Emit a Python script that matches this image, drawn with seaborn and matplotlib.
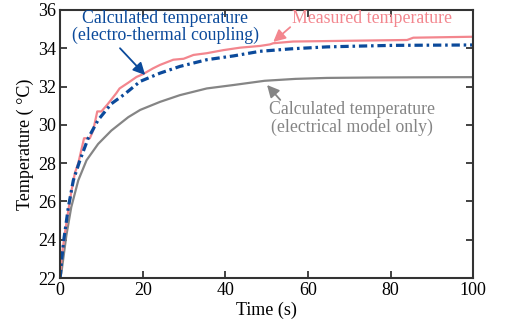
import matplotlib
matplotlib.use("Agg")
import matplotlib.pyplot as plt
import seaborn as sns
import pandas as pd

# ---- data ----
t_meas = [0, 0.3, 1.0, 2.0, 2.8, 3.6, 4.4, 5.8, 7.2, 8.0, 9.0, 10.0, 11.6, 13.6, 14.4,
          16.5, 18.5, 20.1, 21.3, 22.5, 24.2, 27.4, 29.9, 32.3, 35.5, 39.5, 43.6, 48.4,
          50.8, 51.6, 56.4, 70, 84, 85.5, 100]
T_meas = [22.0, 23.0, 24.1, 25.55, 26.6, 27.5, 28.0, 29.3, 29.3, 29.7, 30.7, 30.7, 31.1,
          31.65, 31.9, 32.2, 32.5, 32.65, 32.8, 32.95, 33.13, 33.4, 33.45, 33.65, 33.74,
          33.9, 34.03, 34.12, 34.2, 34.26, 34.35, 34.39, 34.43, 34.55, 34.6]

t_coup = [0, 0.4, 0.9, 2.0, 3.2, 4.8, 6.8, 9.2, 12.4, 15.6, 19.4, 24.2, 29.0, 35.5, 42.0,
          48.4, 56, 64.6, 72, 80.7, 90, 100]
T_coup = [22.0, 23.0, 24.0, 25.7, 27.1, 28.15, 29.3, 30.25, 31.1, 31.6, 32.27, 32.7,
          33.05, 33.4, 33.6, 33.84, 33.97, 34.07, 34.11, 34.15, 34.16, 34.17]

t_elec = [0, 0.3, 1.5, 2.7, 4.4, 6.4, 9.2, 12.4, 16.5, 19.4, 24.2, 29.0, 35.5, 42.0,
          49.5, 57, 64.6, 75, 85, 100]
T_elec = [22.0, 22.25, 24.2, 25.7, 27.1, 28.15, 29.0, 29.7, 30.4, 30.78, 31.2, 31.55,
          31.9, 32.08, 32.3, 32.4, 32.45, 32.47, 32.48, 32.49]

x_ticks = [0, 20, 40, 60, 80, 100]
y_ticks = [22, 24, 26, 28, 30, 32, 34, 36]

label_meas = "Measured temperature"
label_coup = "Calculated temperature\n(electro-thermal coupling)"
label_elec = "Calculated temperature\n(electrical model only)"

c_meas = "#F3868E"
c_coup = "#0B4A9B"
c_elec = "#858585"

sns.set_theme(style="white")
plt.rcParams["font.family"] = ["Liberation Serif", "DejaVu Serif"]

fig = plt.figure(figsize=(5.05, 3.31), dpi=100)
ax = fig.add_axes([0.119, 0.160, 0.818, 0.810])

df_meas = pd.DataFrame({"t": t_meas, "T": T_meas})
df_coup = pd.DataFrame({"t": t_coup, "T": T_coup})
df_elec = pd.DataFrame({"t": t_elec, "T": T_elec})

sns.lineplot(data=df_elec, x="t", y="T", ax=ax, color=c_elec, linewidth=1.6)
sns.lineplot(data=df_meas, x="t", y="T", ax=ax, color=c_meas, linewidth=1.6)
sns.lineplot(data=df_coup, x="t", y="T", ax=ax, color=c_coup, linewidth=2.3,
             linestyle=(0, (2.6, 1.2, 0.8, 1.2)))

ax.set_xlim(0, 100)
ax.set_ylim(22, 36)
ax.set_xticks(x_ticks)
ax.set_yticks(y_ticks)
ax.set_xlabel("Time (s)", fontsize=13, color="black", labelpad=2)
ax.set_ylabel("Temperature ( °C)", fontsize=13, color="black", labelpad=3)
ax.tick_params(direction="in", length=5, width=1.2, colors="#222222",
               labelsize=13, labelcolor="black", top=True, right=True,
               bottom=True, left=True, pad=3)
for s in ax.spines.values():
    s.set_color("#333333")
    s.set_linewidth(1.5)
ax.grid(False)

fs = 12.8
ax.text(25.4, 35.1, label_coup, color=c_coup, fontsize=fs, ha="center", va="center",
        multialignment="center", linespacing=1.0)
ax.annotate("", xy=(20.6, 32.6), xytext=(14.5, 34.0),
            arrowprops=dict(arrowstyle="-|>,head_length=0.6,head_width=0.3",
                            color=c_coup, lw=1.3, shrinkA=0, shrinkB=0))

ax.text(75.5, 35.53, label_meas, color=c_meas, fontsize=fs, ha="center", va="center")
ax.annotate("", xy=(51.6, 34.33), xytext=(55.7, 35.1),
            arrowprops=dict(arrowstyle="-|>,head_length=0.6,head_width=0.3",
                            color=c_meas, lw=1.3, shrinkA=0, shrinkB=0))

ax.text(70.7, 30.33, label_elec, color=c_elec, fontsize=fs, ha="center", va="center",
        multialignment="center", linespacing=1.0)
ax.annotate("", xy=(50.1, 32.08), xytext=(53.3, 31.3),
            arrowprops=dict(arrowstyle="-|>,head_length=0.6,head_width=0.3",
                            color=c_elec, lw=1.3, shrinkA=0, shrinkB=0))

fig.savefig("out.png", dpi=100)
